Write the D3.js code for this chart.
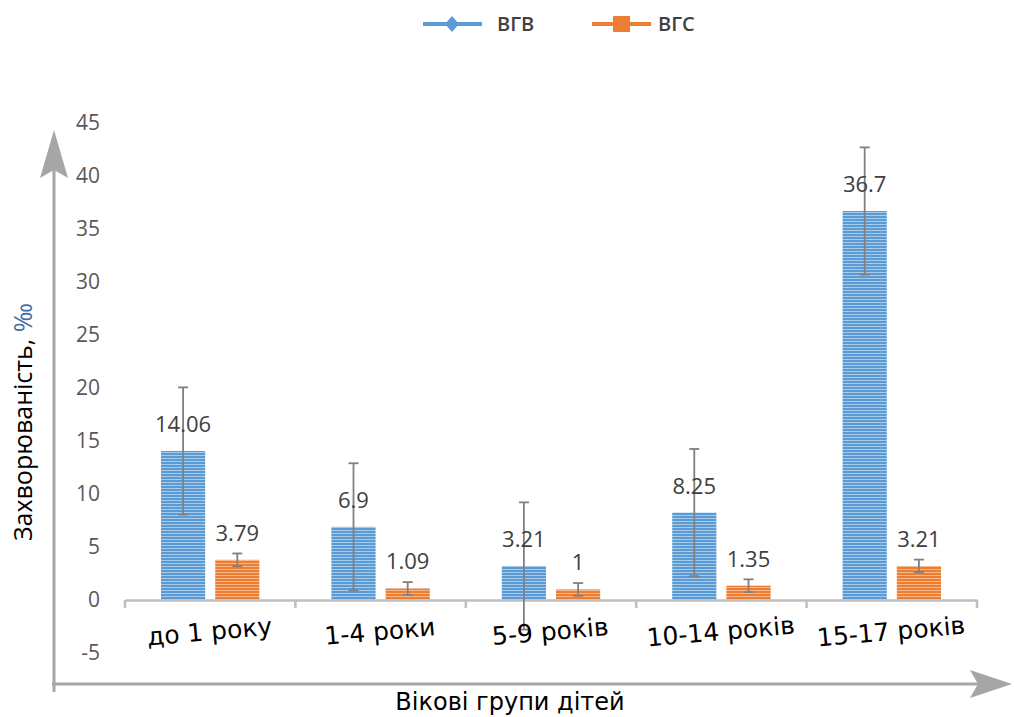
<!DOCTYPE html>
<html><head><meta charset="utf-8">
<script src="https://cdn.jsdelivr.net/npm/d3@7"></script>
<style>body{margin:0;background:#fff}svg{display:block}</style>
</head><body>
<svg id="c" width="1014" height="717"></svg>
<script>
const categories = ["до 1 року", "1-4 роки", "5-9 років", "10-14 років", "15-17 років"];
const seriesNames = ["ВГВ", "ВГС"];
const vgbValues = [14.06, 6.9, 3.21, 8.25, 36.7];
const vgsValues = [3.79, 1.09, 1, 1.35, 3.21];
const vgbErrors = [6, 6, 6, 6, 6];
const vgsErrors = [0.6, 0.6, 0.6, 0.6, 0.6];
const yTicks = [-5, 0, 5, 10, 15, 20, 25, 30, 35, 40, 45];

const svg = d3.select("#c");
const colors = {"ВГВ": "#5b9bd5", "ВГС": "#ed7d31"};
const light = {"ВГВ": "#a9cbea", "ВГС": "#f6b98f"};

const defs = svg.append("defs");
seriesNames.forEach((s, i) => {
  const p = defs.append("pattern").attr("id", "pat" + i).attr("patternUnits", "userSpaceOnUse")
    .attr("width", 6).attr("height", 3);
  p.append("rect").attr("width", 6).attr("height", 3).attr("fill", colors[s]);
  p.append("rect").attr("y", 2).attr("width", 6).attr("height", 1).attr("fill", light[s]);
});

const y = d3.scaleLinear().domain([-5, 45]).range([653, 123]);
const x = d3.scaleBand().domain(categories).range([125, 977]).padding(0);
const xs = d3.scaleBand().domain(seriesNames).range([36, x.bandwidth() - 36]).paddingInner(0.185);

const data = categories.map((c, i) => ({
  cat: c,
  vals: [
    {s: "ВГВ", v: vgbValues[i], e: vgbErrors[i], idx: 0},
    {s: "ВГС", v: vgsValues[i], e: vgsErrors[i], idx: 1}
  ]
}));

// Y tick labels
svg.append("g").selectAll("text").data(yTicks).join("text")
  .attr("x", 100).attr("y", d => y(d)).attr("dy", "0.35em")
  .attr("text-anchor", "end")
  .style("font-family", "'Open Sans', sans-serif").style("font-size", "21px").attr("fill", "#595959")
  .text(d => d);

// Category axis
const xAxis = svg.append("g").attr("transform", `translate(0,${y(0)})`)
  .call(d3.axisBottom(x).tickSize(0).tickFormat(""));
xAxis.select(".domain").attr("stroke", "#bfbfbf").attr("stroke-width", 2.5);
const bounds = categories.map(c => x(c)).concat([x.range()[1]]);
svg.append("g").selectAll("line").data(bounds).join("line")
  .attr("x1", d => d).attr("x2", d => d).attr("y1", y(0)).attr("y2", y(0) + 8)
  .attr("stroke", "#bfbfbf").attr("stroke-width", 2.5);

// Bars
const groups = svg.append("g").selectAll("g").data(data).join("g")
  .attr("transform", d => `translate(${x(d.cat)},0)`);
groups.selectAll("rect").data(d => d.vals).join("rect")
  .attr("x", d => xs(d.s)).attr("width", xs.bandwidth())
  .attr("y", d => y(Math.max(0, d.v))).attr("height", d => Math.abs(y(d.v) - y(0)))
  .attr("fill", d => `url(#pat${d.idx})`);

// Error bars
const eb = groups.selectAll("g.err").data(d => d.vals).join("g").attr("class", "err")
  .attr("stroke", "#808080").attr("stroke-width", 1.8);
eb.append("line").attr("x1", d => xs(d.s) + xs.bandwidth() / 2).attr("x2", d => xs(d.s) + xs.bandwidth() / 2)
  .attr("y1", d => y(d.v + d.e)).attr("y2", d => y(d.v - d.e));
[1, -1].forEach(sg => {
  eb.append("line").attr("x1", d => xs(d.s) + xs.bandwidth() / 2 - 5).attr("x2", d => xs(d.s) + xs.bandwidth() / 2 + 5)
    .attr("y1", d => y(d.v + sg * d.e)).attr("y2", d => y(d.v + sg * d.e));
});

// Value labels
groups.selectAll("text.val").data(d => d.vals).join("text").attr("class", "val")
  .attr("x", d => xs(d.s) + xs.bandwidth() / 2).attr("y", d => y(d.v) - 19)
  .attr("text-anchor", "middle")
  .style("font-family", "'Open Sans', sans-serif").style("font-size", "22px").attr("fill", "#404040")
  .text(d => d.v);

// Category labels
svg.append("g").selectAll("text").data(categories).join("text")
  .attr("transform", d => `translate(${x(d) + x.bandwidth() / 2},${640}) rotate(-5)`)
  .attr("text-anchor", "middle")
  .style("font-family", "'DejaVu Sans', sans-serif").style("font-size", "25px").attr("fill", "#000")
  .text(d => d);

// Arrows
const arrowColor = "#a6a6a6";
svg.append("line").attr("x1", 54).attr("x2", 54).attr("y1", 692).attr("y2", 150)
  .attr("stroke", arrowColor).attr("stroke-width", 3);
svg.append("path").attr("d", "M54,130 L40,178 L54,170 L68,178 Z").attr("fill", arrowColor);
svg.append("line").attr("x1", 52).attr("x2", 990).attr("y1", 684).attr("y2", 684)
  .attr("stroke", arrowColor).attr("stroke-width", 3);
svg.append("path").attr("d", "M1012,684 L970,670 L978,684 L970,698 Z").attr("fill", arrowColor);

// Axis titles
svg.append("text").attr("x", 510).attr("y", 710).attr("text-anchor", "middle")
  .style("font-family", "'DejaVu Sans', sans-serif").style("font-size", "24px").attr("fill", "#000")
  .text("Вікові групи дітей");
const yt = svg.append("text").attr("transform", "translate(32,422) rotate(-90)").attr("text-anchor", "middle")
  .style("font-family", "'Open Sans', sans-serif").style("font-size", "25px").attr("fill", "#000");
yt.append("tspan").text("Захворюваність, ");
yt.append("tspan").attr("fill", "#3c6ea5").text("‰");

// Legend
const lg = svg.append("g");
const legendX = [423, 592];
seriesNames.forEach((s, i) => {
  const g = lg.append("g").attr("transform", `translate(${legendX[i]},24)`);
  g.append("line").attr("x1", 0).attr("x2", 59).attr("stroke", colors[s]).attr("stroke-width", 4);
  if (i === 0) g.append("path").attr("d", "M29,-8 L36,0 L29,8 L22,0 Z").attr("fill", colors[s]);
  else g.append("rect").attr("x", 21).attr("y", -8).attr("width", 17).attr("height", 16).attr("fill", colors[s]);
  g.append("text").attr("x", i === 0 ? 74 : 66).attr("y", 0).attr("dy", "0.35em")
    .style("font-family", "'Open Sans', sans-serif").style("font-size", "20px").style("font-weight", 600)
    .attr("fill", "#404040").text(s);
});
</script>
</body></html>
